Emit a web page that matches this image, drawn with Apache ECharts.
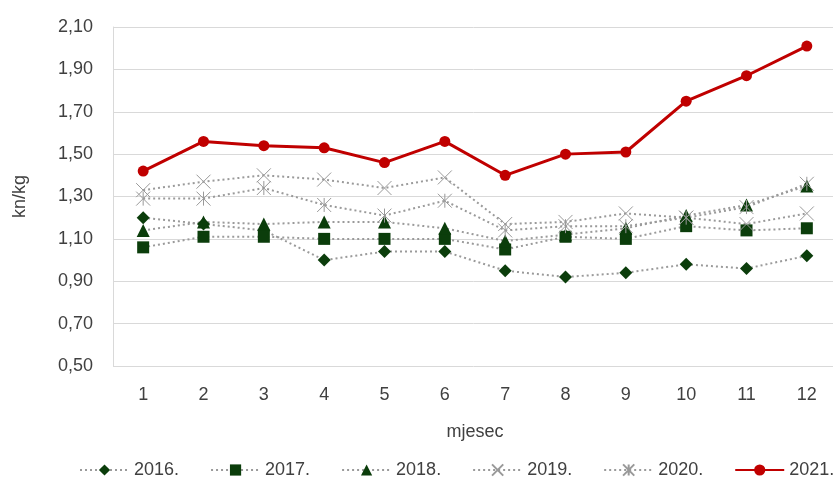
<!DOCTYPE html>
<html>
<head>
<meta charset="utf-8">
<script src="https://cdn.jsdelivr.net/npm/echarts@6/dist/echarts.min.js"></script>
<style>
  html, body { margin: 0; padding: 0; background: #fff; }
  #chart { width: 833px; height: 486px; }
</style>
</head>
<body>
<div id="chart"></div>
<script>
const months = ['1', '2', '3', '4', '5', '6', '7', '8', '9', '10', '11', '12'];

const y2016 = [1.20, 1.17, 1.14, 1.00, 1.04, 1.04, 0.95, 0.92, 0.94, 0.98, 0.96, 1.02];
const y2017 = [1.06, 1.11, 1.11, 1.10, 1.10, 1.10, 1.05, 1.11, 1.10, 1.16, 1.14, 1.15];
const y2018 = [1.14, 1.18, 1.17, 1.18, 1.18, 1.15, 1.09, 1.12, 1.15, 1.21, 1.26, 1.35];
const y2019 = [1.33, 1.37, 1.40, 1.38, 1.34, 1.39, 1.17, 1.18, 1.22, 1.20, 1.17, 1.22];
const y2020 = [1.29, 1.29, 1.34, 1.26, 1.21, 1.28, 1.14, 1.16, 1.16, 1.20, 1.25, 1.36];
const y2021 = [1.42, 1.56, 1.54, 1.53, 1.46, 1.56, 1.40, 1.50, 1.51, 1.75, 1.87, 2.01];

const chart = echarts.init(document.getElementById('chart'));

const FONT = 'Liberation Sans';
const TEXT = '#404040';
const GREEN = '#0b3d0b';
const DOT = '#9a9a9a';

// X and asterisk markers, drawn as strokes
const crossPath = 'path://M0,0L10,10M10,0L0,10';
const starPath = 'path://M0,0L10,10M10,0L0,10M5,0L5,10';

const dotted = (name, values, symbol, size, extra) => Object.assign({
    name,
    type: 'line',
    data: values,
    symbol,
    symbolSize: size,
    showAllSymbol: true,
    lineStyle: {color: DOT, width: 2, type: [2, 3]},
    itemStyle: {color: GREEN, borderColor: GREEN, borderWidth: 0},
    emphasis: {disabled: true},
    z: 2,
}, extra || {});

const grayMark = {
    itemStyle: {color: 'rgba(0,0,0,0)', borderColor: '#999999', borderWidth: 1},
};

const option = {
    animation: false,
    textStyle: {fontFamily: FONT},
    grid: {left: 113, right: -4, top: 27, bottom: 120, outerBoundsMode: 'none'},
    legend: {
        left: 79,
        top: 461,
        width: 1000,
        padding: 0,
        itemWidth: 49,
        itemHeight: 14,
        itemGap: 31,
        textStyle: {fontSize: 18, color: TEXT, fontFamily: FONT},
        data: ['2016.', '2017.', '2018.', '2019.', '2020.', '2021.'],
    },
    xAxis: {
        type: 'category',
        data: months,
        boundaryGap: true,
        name: 'mjesec',
        nameLocation: 'middle',
        nameGap: 57,
        nameTextStyle: {fontSize: 18, color: TEXT},
        axisLine: {show: false},
        axisTick: {show: false},
        axisLabel: {fontSize: 18, color: TEXT, margin: 20},
    },
    yAxis: {
        type: 'value',
        min: 0.5,
        max: 2.1,
        interval: 0.2,
        name: 'kn/kg',
        nameLocation: 'middle',
        nameGap: 84,
        nameRotate: 90,
        nameTextStyle: {fontSize: 18, color: TEXT},
        axisLine: {show: true, lineStyle: {color: '#d9d9d9', width: 1}},
        axisTick: {show: false},
        axisLabel: {
            fontSize: 18,
            color: TEXT,
            margin: 20,
            formatter: (v) => v.toFixed(2).replace('.', ','),
        },
        splitLine: {lineStyle: {color: '#d9d9d9', width: 1}},
    },
    series: [
        dotted('2016.', y2016, 'diamond', 13),
        dotted('2017.', y2017, 'rect', 12),
        dotted('2018.', y2018, 'triangle', 13),
        dotted('2019.', y2019, crossPath, 14, grayMark),
        dotted('2020.', y2020, starPath, 14, grayMark),
        {
            name: '2021.',
            type: 'line',
            data: y2021,
            symbol: 'circle',
            symbolSize: 11,
            lineStyle: {color: '#c00000', width: 3},
            itemStyle: {color: '#c00000'},
            emphasis: {disabled: true},
            z: 3,
        },
    ],
};

chart.setOption(option);
</script>
</body>
</html>
